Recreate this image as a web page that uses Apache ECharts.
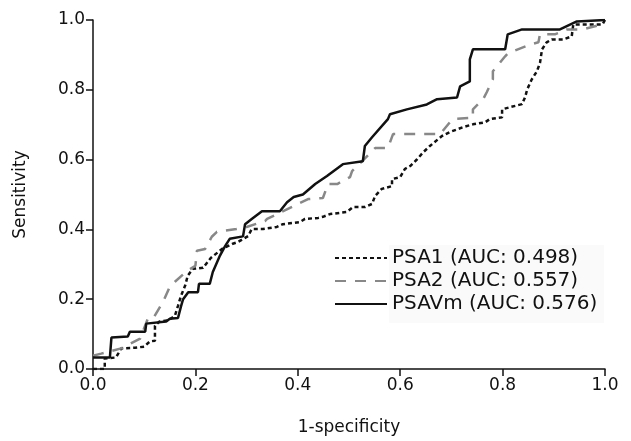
<!DOCTYPE html>
<html>
<head>
<meta charset="utf-8">
<script src="https://cdn.jsdelivr.net/npm/echarts@6/dist/echarts.min.js"></script>
<style>html,body{margin:0;padding:0;background:#fff}#c{width:631px;height:441px}</style>
</head>
<body>
<div id="c"></div>
<script>
// Tick labels
const xTicks = [0, 0.2, 0.4, 0.6, 0.8, 1.0];
const yTicks = [0, 0.2, 0.4, 0.6, 0.8, 1.0];
const seriesNames = ['PSA1 (AUC: 0.498)', 'PSA2 (AUC: 0.557)', 'PSAVm (AUC: 0.576)'];

// [1-specificity, sensitivity]
const psa1 = [[0,0],[0.023,0],[0.023,0.03],[0.045,0.033],[0.055,0.059],[0.082,0.061],[0.1,0.064],[0.111,0.079],[0.121,0.081],[0.121,0.124],[0.13,0.136],[0.147,0.139],[0.16,0.153],[0.166,0.181],[0.172,0.21],[0.18,0.239],[0.185,0.267],[0.195,0.287],[0.215,0.29],[0.23,0.318],[0.252,0.344],[0.273,0.359],[0.283,0.364],[0.303,0.381],[0.31,0.401],[0.332,0.401],[0.359,0.407],[0.371,0.415],[0.404,0.421],[0.414,0.43],[0.44,0.433],[0.449,0.436],[0.463,0.444],[0.496,0.45],[0.508,0.464],[0.531,0.464],[0.545,0.473],[0.551,0.496],[0.564,0.516],[0.584,0.524],[0.584,0.544],[0.6,0.55],[0.609,0.573],[0.62,0.582],[0.633,0.601],[0.645,0.621],[0.658,0.639],[0.681,0.667],[0.697,0.679],[0.723,0.693],[0.742,0.701],[0.766,0.707],[0.775,0.716],[0.799,0.721],[0.799,0.744],[0.814,0.75],[0.838,0.759],[0.844,0.779],[0.848,0.801],[0.857,0.83],[0.867,0.853],[0.873,0.877],[0.877,0.916],[0.886,0.936],[0.896,0.944],[0.918,0.944],[0.935,0.953],[0.938,0.987],[0.995,0.987],[1,1]];
const psa2 = [[0,0.038],[0.016,0.044],[0.055,0.059],[0.092,0.087],[0.107,0.144],[0.117,0.144],[0.137,0.193],[0.15,0.236],[0.16,0.25],[0.182,0.279],[0.2,0.296],[0.203,0.339],[0.219,0.344],[0.232,0.379],[0.242,0.393],[0.28,0.401],[0.30,0.407],[0.336,0.424],[0.34,0.43],[0.42,0.487],[0.449,0.49],[0.459,0.53],[0.477,0.53],[0.502,0.55],[0.506,0.567],[0.551,0.633],[0.576,0.633],[0.586,0.673],[0.678,0.673],[0.697,0.707],[0.703,0.716],[0.742,0.72],[0.742,0.744],[0.762,0.773],[0.769,0.793],[0.781,0.83],[0.781,0.853],[0.805,0.896],[0.81,0.904],[0.854,0.93],[0.87,0.936],[0.873,0.959],[0.902,0.959],[0.926,0.973],[0.957,0.973],[1,0.99]];
const psavm = [[0,0.033],[0.033,0.033],[0.036,0.09],[0.068,0.093],[0.072,0.107],[0.102,0.107],[0.104,0.13],[0.143,0.136],[0.15,0.144],[0.166,0.146],[0.172,0.18],[0.176,0.2],[0.186,0.22],[0.205,0.22],[0.207,0.244],[0.228,0.244],[0.234,0.278],[0.248,0.325],[0.258,0.352],[0.267,0.373],[0.293,0.38],[0.297,0.415],[0.31,0.43],[0.33,0.452],[0.365,0.452],[0.379,0.478],[0.392,0.493],[0.41,0.5],[0.434,0.53],[0.457,0.553],[0.488,0.587],[0.527,0.595],[0.531,0.639],[0.545,0.664],[0.576,0.716],[0.58,0.73],[0.613,0.744],[0.652,0.758],[0.672,0.773],[0.711,0.778],[0.717,0.81],[0.736,0.824],[0.736,0.887],[0.742,0.916],[0.805,0.916],[0.81,0.959],[0.838,0.973],[0.912,0.973],[0.945,0.996],[1,1]];

const chart = echarts.init(document.getElementById('c'), null, {renderer: 'canvas'});
const font = 'DejaVu Sans, Liberation Sans, sans-serif';
function axis(name, gap, rot) {
  return {
    type: 'value', min: 0, max: 1, interval: 0.2,
    name: name, nameLocation: 'middle', nameGap: gap, nameRotate: rot,
    nameTextStyle: {fontSize: 17, color: '#111', fontFamily: font},
    axisLine: {show: true, onZero: false, lineStyle: {color: '#111', width: 1.5}},
    axisTick: {show: true, inside: false, length: 7, lineStyle: {color: '#111', width: 1.5}},
    axisLabel: {fontSize: 17, color: '#111', fontFamily: font, margin: 8,
      formatter: v => v.toFixed(1)},
    splitLine: {show: false}
  };
}
chart.setOption({
  animation: false,
  backgroundColor: '#fff',
  grid: {left: 93, right: 26, top: 20, bottom: 71},
  xAxis: axis('1-specificity', 50, 0),
  yAxis: axis('Sensitivity', 64, 90),
  legend: {
    orient: 'vertical', left: 334, top: 248, itemWidth: 52, itemHeight: 14, itemGap: 3,
    padding: 0,
    itemStyle: {opacity: 0},
    textStyle: {fontSize: 20, color: '#111', fontFamily: font, lineHeight: 20},
    data: seriesNames
  },
  graphic: [{type: 'rect', left: 389, top: 245, shape: {width: 215, height: 78}, style: {fill: '#fafafa'}, z: -10, silent: true}],
  series: [
    {name: seriesNames[0], type: 'line', data: psa1, symbol: 'none', lineStyle: {color: '#111', width: 2.5, type: [4, 3]}, itemStyle: {color: '#111'}},
    {name: seriesNames[1], type: 'line', data: psa2, symbol: 'none', lineStyle: {color: '#888', width: 2.5, type: [11, 9]}, itemStyle: {color: '#888'}},
    {name: seriesNames[2], type: 'line', data: psavm, symbol: 'none', lineStyle: {color: '#111', width: 2.5}, itemStyle: {color: '#111'}}
  ]
});
</script>
</body>
</html>
